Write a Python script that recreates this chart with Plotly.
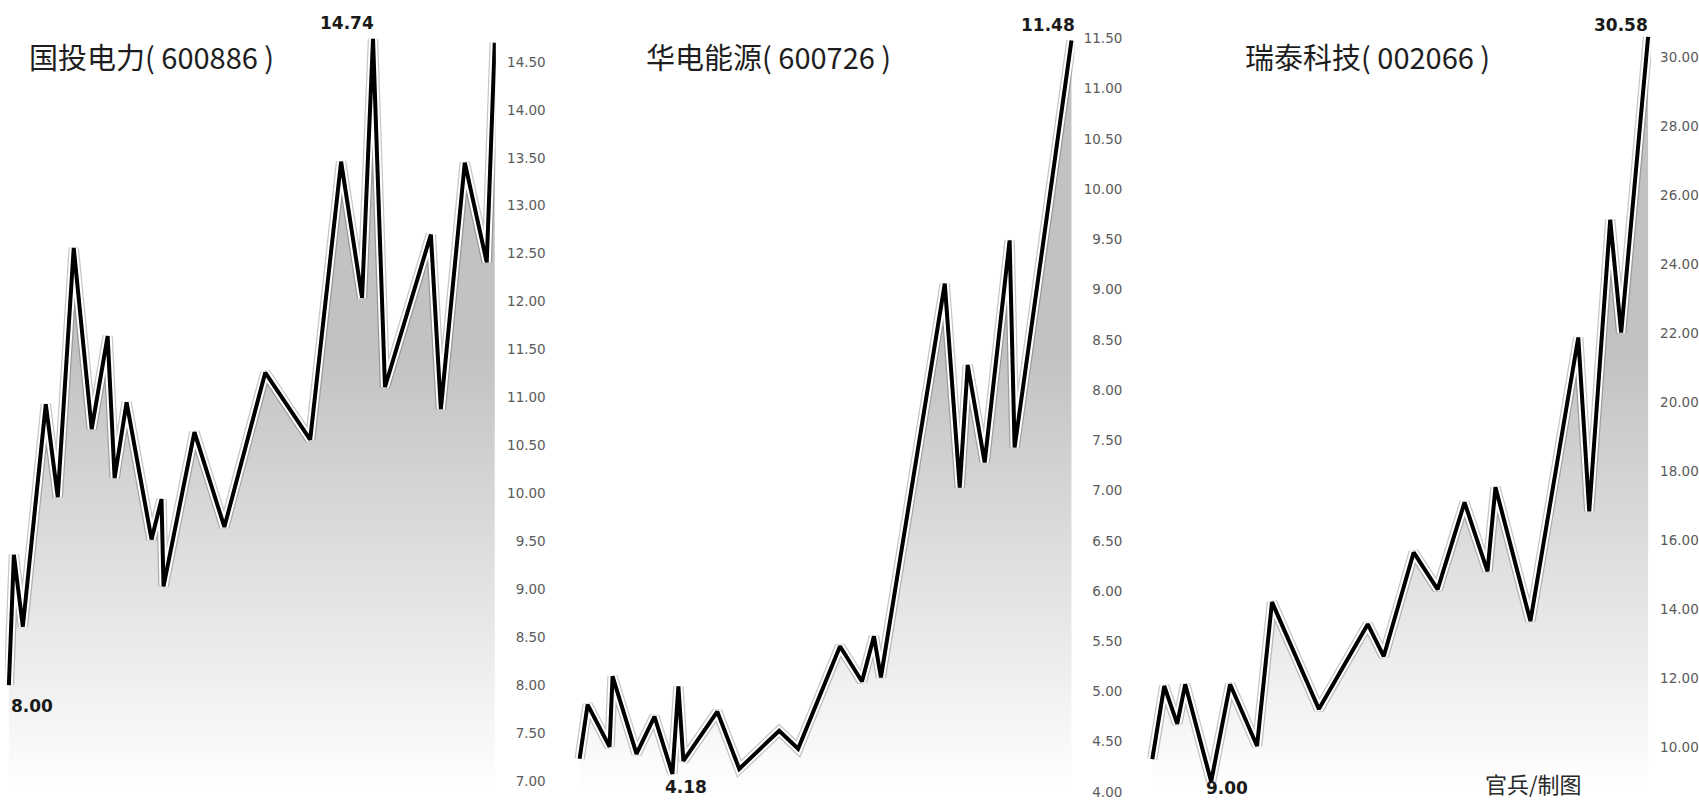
import plotly.graph_objects as go

W, H = 1699, 800

# ---------------- data ----------------
titles = ["国投电力( 600886 )", "华电能源( 600726 )", "瑞泰科技( 002066 )"]
credit = "官兵/制图"

# relative trading-time position of each turning point
days_1 = [0, 5, 14, 37, 49, 65, 83, 99, 106, 118, 143, 153, 155, 186, 216, 257,
          302, 333, 354, 365, 377, 423, 433, 457, 479, 487]
price_1 = [8.00, 9.36, 8.61, 10.93, 9.96, 12.56, 10.67, 11.64, 10.16, 10.95, 9.52,
           9.94, 9.03, 10.64, 9.65, 11.26, 10.56, 13.46, 12.04, 14.74, 11.11, 12.70,
           10.88, 13.45, 12.41, 14.70]

days_2 = [0, 8, 30, 33, 57, 75, 93, 99, 104, 138, 160, 200, 219, 261, 283, 295,
          302, 366, 381, 389, 406, 431, 436, 493]
price_2 = [4.33, 4.87, 4.45, 5.15, 4.38, 4.75, 4.18, 5.05, 4.31, 4.80, 4.23, 4.61,
           4.43, 5.45, 5.10, 5.55, 5.14, 9.06, 7.03, 8.25, 7.28, 9.49, 7.43, 11.48]

days_3 = [0, 12, 25, 33, 59, 78, 105, 120, 167, 216, 232, 262, 286, 313, 336, 344,
          379, 427, 438, 459, 470, 497]
price_3 = [9.65, 11.77, 10.67, 11.82, 9.00, 11.82, 10.03, 14.20, 11.10, 13.56, 12.63,
           15.64, 14.57, 17.09, 15.09, 17.53, 13.65, 21.87, 16.83, 25.28, 22.01, 30.58]

ticks_1 = [7.00, 7.50, 8.00, 8.50, 9.00, 9.50, 10.00, 10.50, 11.00, 11.50, 12.00,
           12.50, 13.00, 13.50, 14.00, 14.50]
ticks_2 = [4.00, 4.50, 5.00, 5.50, 6.00, 6.50, 7.00, 7.50, 8.00, 8.50, 9.00, 9.50,
           10.00, 10.50, 11.00, 11.50]
ticks_3 = [10.00, 12.00, 14.00, 16.00, 18.00, 20.00, 22.00, 24.00, 26.00, 28.00, 30.00]

# ---------------- layout geometry / style ----------------
panels = [
    dict(days=days_1, price=price_1, ticks=ticks_1, title=titles[0],
         xdom_px=(5, 497), x0_px=8.9, yrange=(6.8125, 15.146),
         title_px=(27, 56), tick_side="left", tick_pos_px=547,
         max_lab=dict(xanchor="right", xshift=3, yshift=16),
         min_lab=dict(xanchor="left", xshift=0, yshift=-21)),
    dict(days=days_2, price=price_2, ticks=ticks_2, title=titles[1],
         xdom_px=(575, 1077), x0_px=581, yrange=(3.930, 11.883),
         title_px=(646, 56), tick_side="left", tick_pos_px=1125,
         max_lab=dict(xanchor="right", xshift=6, yshift=15),
         min_lab=dict(xanchor="center", xshift=14, yshift=-13)),
    dict(days=days_3, price=price_3, ticks=ticks_3, title=titles[2],
         xdom_px=(1150, 1655), x0_px=1155, yrange=(8.495, 31.650),
         title_px=(1246, 56), tick_side="right", tick_pos_px=None,
         max_lab=dict(xanchor="right", xshift=2, yshift=12),
         min_lab=dict(xanchor="center", xshift=16, yshift=-6)),
]

TICK_FONT = dict(family="DejaVu Sans", size=13.5, color="#5a5a5a")
LAB_FONT = dict(family="DejaVu Sans", size=17, color="#1a1a1a", weight="bold")
TITLE_FONT = dict(family="Noto Sans CJK SC", size=29, color="#1e1e1e")

fig = go.Figure()
annotations = []
layout = {}

for i, p in enumerate(panels, start=1):
    xa = "x" if i == 1 else f"x{i}"
    ya = "y" if i == 1 else f"y{i}"
    xkey = "xaxis" if i == 1 else f"xaxis{i}"
    ykey = "yaxis" if i == 1 else f"yaxis{i}"
    lo, hi = p["yrange"]
    L, R = p["xdom_px"]

    # gradient area under the line
    fig.add_trace(go.Scatter(
        x=p["days"], y=p["price"], xaxis=xa, yaxis=ya, mode="lines",
        line=dict(width=0), fill="tozeroy",
        fillgradient=dict(type="vertical",
                          colorscale=[[0, "#ffffff"], [1, "#c2c2c2"]],
                          start=lo + 0.01 * (hi - lo), stop=lo + 0.56 * (hi - lo)),
        hoverinfo="skip", showlegend=False))
    # soft shadow, white halo and black line
    for col, wd in (("rgba(0,0,0,0.22)", 10.5), ("#ffffff", 8), ("#000000", 4)):
        fig.add_trace(go.Scatter(
            x=p["days"], y=p["price"], xaxis=xa, yaxis=ya, mode="lines",
            line=dict(color=col, width=wd), hoverinfo="skip", showlegend=False))

    layout[xkey] = dict(domain=[L / W, R / W],
                        range=[L - p["x0_px"], R - p["x0_px"]],
                        visible=False, anchor=ya, fixedrange=True)
    yax = dict(domain=[0, 1], range=[lo, hi], tickvals=p["ticks"], tickformat=".2f",
               showgrid=False, zeroline=False, showline=False, ticks="",
               tickfont=TICK_FONT, fixedrange=True, ticklabeloverflow="allow")
    if p["tick_side"] == "left":
        yax.update(side="left", anchor="free", position=p["tick_pos_px"] / W)
    else:
        yax.update(side="right", anchor=xa, ticklabelstandoff=8)
    layout[ykey] = yax

    # title
    tx, ty = p["title_px"]
    annotations.append(dict(text=p["title"], xref="paper", yref="paper",
                            x=tx / W, y=1 - ty / H, xanchor="left", yanchor="middle",
                            showarrow=False, font=TITLE_FONT))
    # max / min value labels
    prices = p["price"]
    imax = prices.index(max(prices))
    imin = prices.index(min(prices))
    for idx, st in ((imax, p["max_lab"]), (imin, p["min_lab"])):
        annotations.append(dict(text=f"{prices[idx]:.2f}", xref=xa, yref=ya,
                                x=p["days"][idx], y=prices[idx], showarrow=False,
                                xanchor=st["xanchor"], yanchor="middle",
                                xshift=st["xshift"], yshift=st["yshift"],
                                font=LAB_FONT))

annotations.append(dict(text=credit, xref="paper", yref="paper",
                        x=1537 / W, y=1 - 784 / H, xanchor="center", yanchor="middle",
                        showarrow=False,
                        font=dict(family="Noto Sans CJK SC", size=22, color="#2a2a2a")))

fig.update_layout(
    width=W, height=H, margin=dict(l=0, r=0, t=0, b=0),
    paper_bgcolor="#ffffff", plot_bgcolor="rgba(0,0,0,0)",
    annotations=annotations, **layout)

fig.write_html("out.html", config={"displayModeBar": False})
